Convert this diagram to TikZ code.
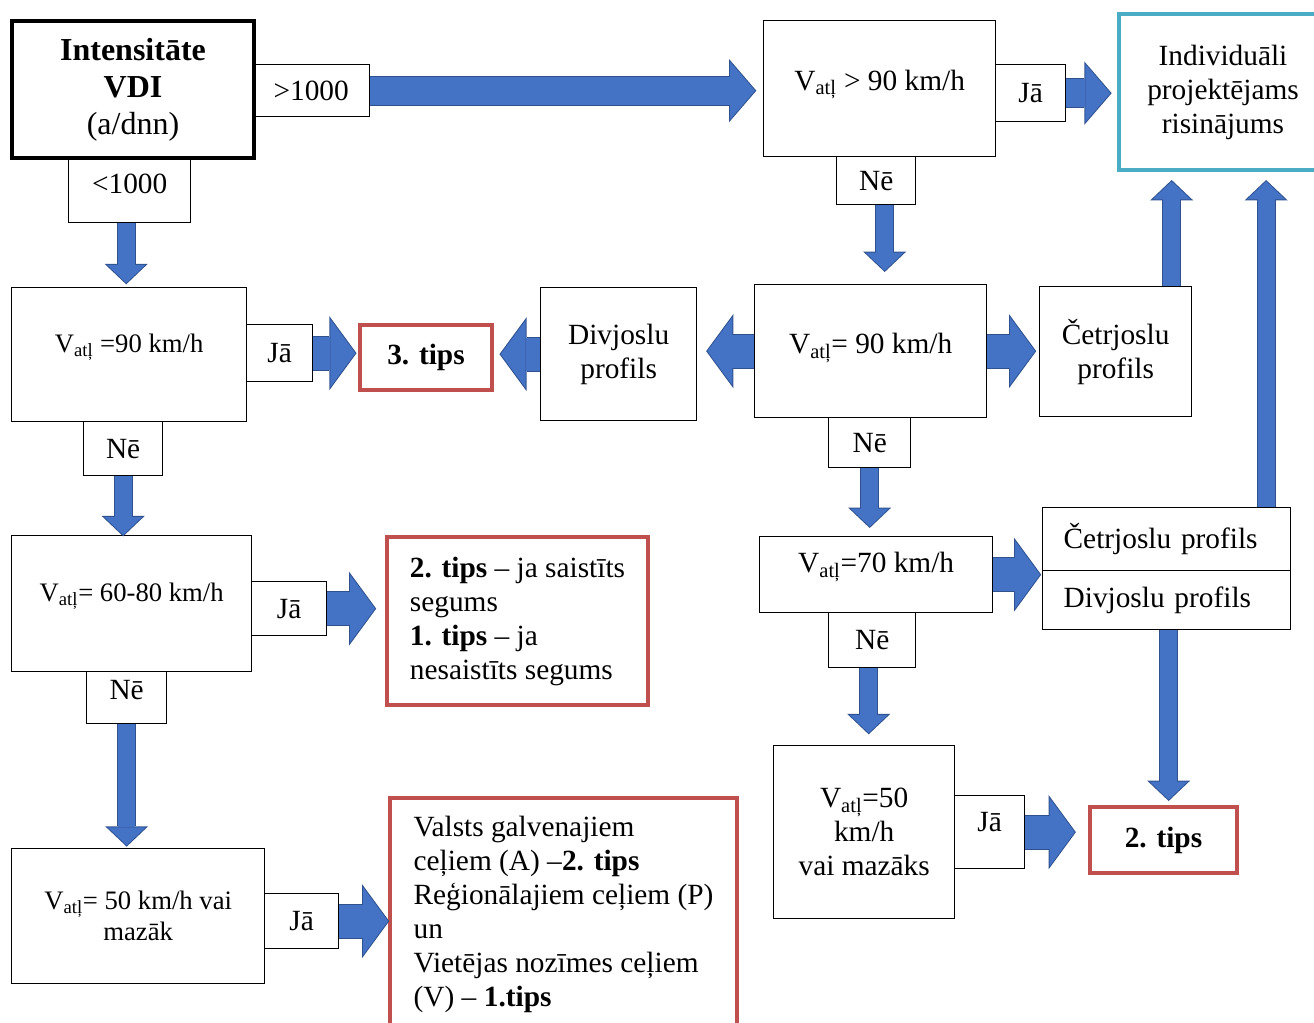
\documentclass[tikz,border=0pt]{standalone}
\usepackage{fontspec}
\setmainfont{Liberation Serif}
\usetikzlibrary{arrows.meta}

\definecolor{arrowfill}{HTML}{4472C4}
\definecolor{arrowline}{HTML}{2F528F}
\definecolor{tipred}{HTML}{C0504D}
\definecolor{tipcyan}{HTML}{4BACC6}
\newcommand{\atl}{\textsubscript{atļ}}

\begin{document}
\begin{tikzpicture}[x=0.75pt,y=-0.75pt,
  every node/.style={font=\fontsize{22pt}{25.5pt}\selectfont,inner sep=2pt},
  small/.style={font=\fontsize{20pt}{23.25pt}\selectfont},
  box/.style={draw,line width=1pt,anchor=north west,align=center},
  sz/.style 2 args={minimum width=#1*0.75pt,minimum height=#2*0.75pt},
  redbox/.style={box,draw=tipred,line width=3pt},
  vblk/.style={draw=arrowfill,line width=12.75pt,
    -{Triangle[width=28.5pt,length=13.5pt,line width=0pt]},shorten >=#1,
    preaction={draw=arrowline,line width=14.25pt,
      -{Triangle[width=32.3pt,length=15.3pt,line width=0pt]},shorten >=#1-1pt}},
  hblk/.style={draw=arrowfill,line width=24.75pt,
    -{Triangle[width=51pt,length=18.75pt,line width=0pt]},shorten >=#1,
    preaction={draw=arrowline,line width=26.25pt,
      -{Triangle[width=55.6pt,length=20.4pt,line width=0pt]},shorten >=#1-0.9pt}},
  topblk/.style={draw=arrowfill,line width=21pt,
    -{Triangle[width=43.5pt,length=18.75pt,line width=0pt]},shorten >=#1,
    preaction={draw=arrowline,line width=22.5pt,
      -{Triangle[width=47.5pt,length=20.5pt,line width=0pt]},shorten >=#1-1pt}}]

\useasboundingbox (0,0) rectangle (1314,1023);

% top row
\node[box,sz={242}{137},line width=3pt,font=\fontsize{24pt}{27.75pt}\selectfont] (intens) at (10,19)
  {\textbf{Intensitāte}\\\textbf{VDI}\\(a/dnn)};
\node[box,sz={117}{52}] (gt) at (252,64) {>1000};
\node[box,sz={122}{66},text depth=9pt] (lt) at (68,156) {<1000};
\node[box,sz={232}{136},text depth=13pt] (v90t) at (763,20) {V\atl{} > 90 km/h};
\node[box,sz={70}{57}] (jat) at (995,64) {Jā};
\node[box,sz={208}{156},draw=tipcyan,line width=3pt] (indiv) at (1117,12)
  {Individuāli\\projektējams\\risinājums};
\node[box,sz={79}{48}] (net) at (836,156) {Nē};

% second row
\node[box,small,sz={235}{134},text depth=17pt] (v90l) at (11,287) {V\atl{} =90 km/h};
\node[box,sz={66}{57}] (jal) at (246,324) {Jā};
\node[redbox,sz={132}{65}] (tips3) at (358,323) {\textbf{3. tips}};
\node[box,sz={156}{133}] (divj) at (540,287) {Divjoslu\\profils};
\node[box,sz={232}{133},text depth=12pt] (v90r) at (754,284) {V\atl= 90 km/h};
\node[box,sz={152}{130}] (cetr) at (1039,286) {Četrjoslu\\profils};
\node[box,sz={79}{54}] (nel) at (83,421) {Nē};
\node[box,sz={82}{50}] (ner) at (828,417) {Nē};

% third row
\node[box,small,sz={240}{136},text depth=17pt] (v6080) at (11,535) {V\atl= 60-80 km/h};
\node[box,sz={75}{54}] (ja6080) at (251,581) {Jā};
\node[redbox,sz={261}{168},align=left] (tipsa) at (385,535)
  {\textbf{2. tips} – ja saistīts\\segums\\\textbf{1. tips} – ja\\nesaistīts segums};
\node[box,sz={80}{52},text depth=12pt] (ne6080) at (86,671) {Nē};
\node[box,sz={233}{76},text depth=18pt] (v70) at (759,536) {V\atl=70 km/h};
\node[box,sz={248}{63},align=left,text width=154.5pt,inner xsep=15.75pt] (cetrb) at (1042,507) {Četrjoslu profils};
\node[box,sz={248}{59},align=left,text width=154.5pt,inner xsep=15.75pt] (divjb) at (1042,570) {Divjoslu profils};
\node[box,sz={87}{55}] (ne70) at (828,612) {Nē};

% bottom row
\node[box,sz={181}{173}] (v50r) at (773,745) {V\atl=50\\km/h\\vai mazāks};
\node[box,sz={70}{73},text depth=16pt] (ja50r) at (954,795) {Jā};
\node[redbox,sz={147}{66}] (tips2) at (1088,805) {\textbf{2. tips}};
\node[box,small,sz={253}{135}] (v50l) at (11,848) {V\atl= 50 km/h vai\\mazāk};
\node[box,sz={74}{55}] (ja50l) at (264,893) {Jā};
\node[redbox,sz={347}{240},align=left,text depth=10pt] (tipsb) at (388,796)
  {Valsts galvenajiem\\ceļiem (A) –\textbf{2. tips}\\Reģionālajiem ceļiem (P)\\un\\Vietējas nozīmes ceļiem\\(V) – \textbf{1.tips}};

% block arrows
\draw[topblk=6pt] (gt.east) -- (gt.east -| v90t.west);
\draw[topblk=5pt] (jat.east) -- (jat.east -| indiv.west);
\draw[vblk=3pt] ([xshift=-2.6pt]lt.south) -- ([xshift=-2.6pt]lt.south |- v90l.north);
\draw[vblk=0pt] (nel.south) -- (nel.south |- v6080.north);
\draw[vblk=2pt] (ne6080.south) -- (ne6080.south |- v50l.north);
\draw[vblk=10pt] ([xshift=6.4pt]net.south) -- ([xshift=6.4pt]net.south |- v90r.north);
\draw[vblk=7pt] (ner.south) -- (ner.south |- v70.north);
\draw[vblk=9pt] ([xshift=-2.6pt]ne70.south) -- ([xshift=-2.6pt]ne70.south |- v50r.north);
\draw[vblk=7pt] ([xshift=42pt]cetr.north) -- ([xshift=42pt]cetr.north |- indiv.south);
\draw[vblk=7pt] ([xshift=74.6pt]cetrb.north) -- ([xshift=74.6pt]cetrb.north |- indiv.south);
\draw[vblk=4pt] ([xshift=1.5pt]divjb.south) -- ([xshift=1.5pt]divjb.south |- tips2.north);
\draw[hblk=2pt] (jal.east) -- (jal.east -| tips3.west);
\draw[hblk=5pt] (divj.west) -- (divj.west -| tips3.east);
\draw[hblk=7.5pt] (v90r.west) -- (v90r.west -| divj.east);
\draw[hblk=3pt] (v90r.east) -- (v90r.east -| cetr.west);
\draw[hblk=7.5pt] (ja6080.east) -- (ja6080.east -| tipsa.west);
\draw[hblk=1.5pt] (v70.east) -- (v70.east -| cetrb.west);
\draw[hblk=10pt] (ja50r.east) -- (ja50r.east -| tips2.west);
\draw[hblk=0pt] (ja50l.east) -- (ja50l.east -| tipsb.west);

\end{tikzpicture}
\end{document}
